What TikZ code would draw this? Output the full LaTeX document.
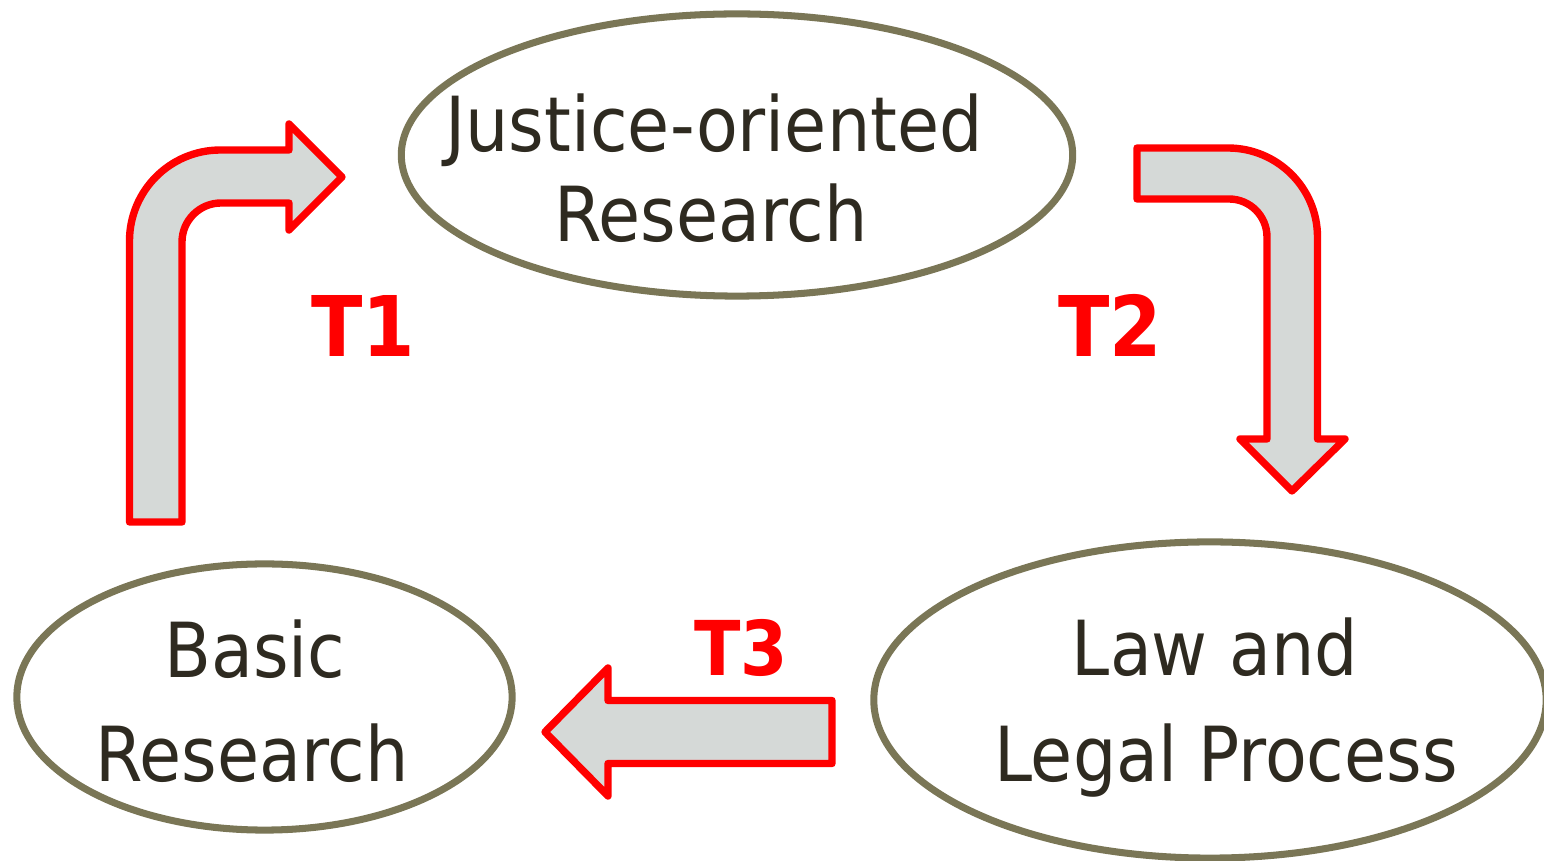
\documentclass[tikz,border=0pt]{standalone}
\usepackage{fontspec}
\setmainfont{DejaVu Sans Condensed}[BoldFont={DejaVu Sans Condensed Bold}]
\usetikzlibrary{shapes.geometric}
\definecolor{ovalline}{HTML}{7A7656}
\definecolor{arrowfill}{HTML}{D5D9D7}
\definecolor{textdark}{HTML}{2E2A20}

\begin{document}
\begin{tikzpicture}[
            x=0.01cm, y=-0.01cm,
            myoval/.style={
            ellipse,
            draw=ovalline,
            line width=2pt,
            inner sep=0pt},
        mylabel/.style={anchor=base, text=textdark, font=\fontsize{21.6}{25}\selectfont},
        tlabel/.style={anchor=base, text=red, font=\bfseries\fontsize{23.8}{28}\selectfont},
        myarrow/.style={draw=red, fill=arrowfill, line width=2.1pt, line join=round}
        ]
        \useasboundingbox (0,0) rectangle (1544,861);
        \clip (0,0) rectangle (1544,861);

        \node[myoval, minimum width=6.71cm, minimum height=2.82cm] (jor) at (737,155) {};
        \node[myoval, minimum width=4.95cm, minimum height=2.66cm] (basic) at (264.5,697) {};
        \node[myoval, minimum width=6.72cm, minimum height=3.16cm] (law) at (1210,700) {};

        \foreach \n/\x/\y/\txt in {% name/x/baseline/text
            jor1/714/152/{Justice-oriented},
            jor2/711/242/{Research},
            basic1/255/678/{Basic},
            basic2/252/782/{Research},
            law1/1215/676/{Law and},
            law2/1226/782/{Legal Process}}
            \node[mylabel] (\n) at (\x,\y) {\txt};

        % bent arrows
        \draw[myarrow] (129.5,522) -- (129.5,241)
            .. controls (129.5,190.7) and (170.2,150) .. (220.5,150)
            -- (289,150) -- (289,124) -- (342,177) -- (289,230) -- (289,203) -- (221,203)
            .. controls (199.5,203) and (182,220.5) .. (182,242) -- (182,522) -- cycle;
        \draw[myarrow] (1137,148) -- (1228,148)
            .. controls (1277.2,148) and (1317.5,187.8) .. (1317.5,237)
            -- (1317.5,439) -- (1345,439) -- (1292,491) -- (1240,439) -- (1267,439) -- (1267,237)
            .. controls (1267,216) and (1250,199) .. (1229,199) -- (1137,199) -- cycle;
        \draw[myarrow] (832,700.5) -- (608,700.5) -- (608,668) -- (545,732)
            -- (608,796) -- (608,763.5) -- (832,763.5) -- cycle;

        \node[tlabel] (t1) at (363,357) {T1};
        \node[tlabel] (t2) at (1110,357) {T2};
        \node[tlabel, font=\bfseries\fontsize{21.5}{25}\selectfont] (t3) at (741,676) {T3};
\end{tikzpicture}
\end{document}
